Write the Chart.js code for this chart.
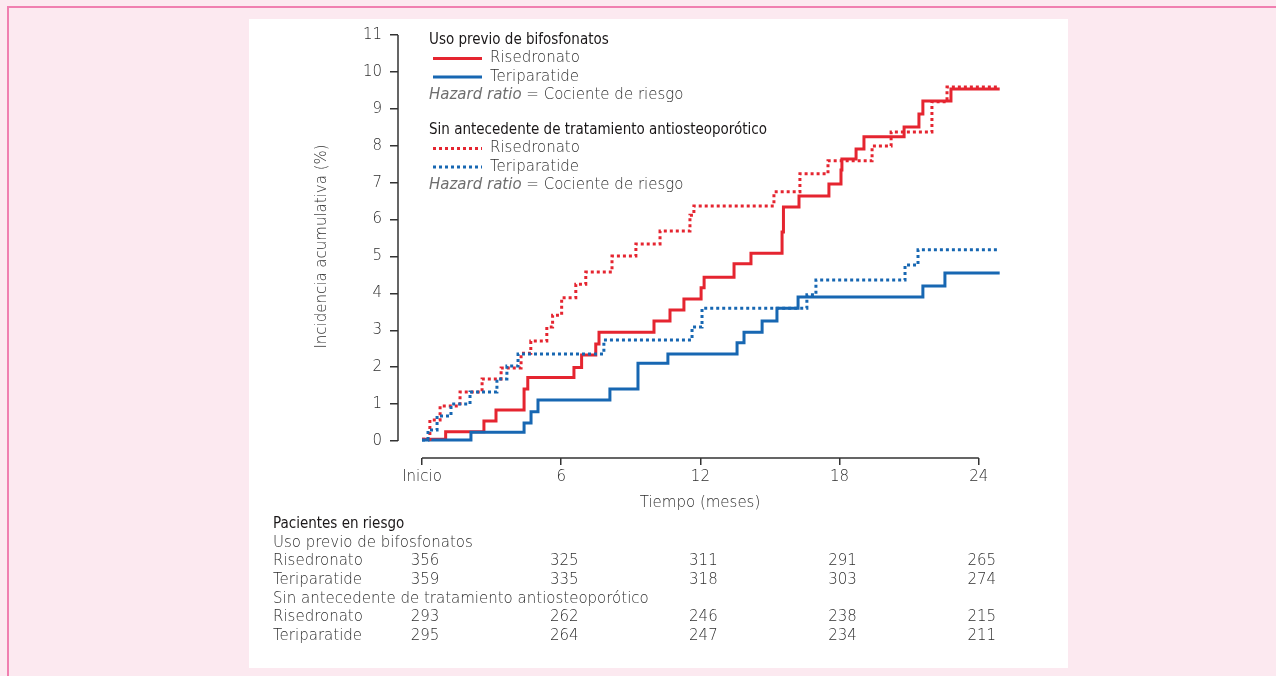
<!DOCTYPE html>
<html>
<head>
<meta charset="utf-8">
<script src="https://cdn.jsdelivr.net/npm/chart.js@4"></script>
<style>
  html, body { margin: 0; padding: 0; width: 1276px; height: 676px; overflow: hidden; background: #fce9f0; }
  #frame { position: absolute; left: 7px; top: 6px; right: 0; bottom: 0; border-left: 2px solid #f07fb0; border-top: 2px solid #f07fb0; }
  #panel { position: absolute; left: 249px; top: 19px; width: 819px; height: 649px; background: #ffffff; }
  canvas { position: absolute; left: 0; top: 0; }
</style>
</head>
<body>
<div id="frame"></div>
<div id="panel"></div>
<canvas id="c" width="1276" height="676"></canvas>
<script>
// Cumulative incidence (%) step curves: event month -> new level
const prevRisTimes  = [0, 1.02, 2.67, 3.19, 4.40, 4.56, 6.55, 6.88, 7.49, 7.63, 10.0, 10.69, 11.29, 12.03, 12.16, 13.45, 14.18, 15.52, 15.58, 16.25, 17.54, 18.06, 18.10, 18.71, 19.05, 20.78, 21.42, 21.59, 22.80, 24.9];
const prevRisLevels = [0.05, 0.25, 0.54, 0.84, 1.41, 1.72, 1.99, 2.33, 2.63, 2.95, 3.25, 3.55, 3.85, 4.15, 4.44, 4.80, 5.09, 5.66, 6.34, 6.64, 6.96, 7.34, 7.64, 7.91, 8.24, 8.51, 8.86, 9.21, 9.54, 9.54];

const prevTerTimes  = [0, 2.11, 4.40, 4.70, 5.0, 8.10, 9.31, 10.60, 13.58, 13.88, 14.66, 15.30, 16.21, 21.59, 22.54, 24.9];
const prevTerLevels = [0.03, 0.24, 0.49, 0.79, 1.11, 1.41, 2.11, 2.36, 2.66, 2.95, 3.25, 3.60, 3.90, 4.20, 4.55, 4.55];

const naiveRisTimes  = [0, 0.34, 0.78, 1.64, 2.59, 3.41, 4.27, 4.69, 5.38, 5.63, 6.02, 6.63, 7.06, 8.19, 9.22, 10.26, 11.55, 11.72, 15.17, 16.29, 17.5, 19.4, 20.22, 21.98, 22.63, 24.9];
const naiveRisLevels = [0.05, 0.57, 0.95, 1.33, 1.68, 1.98, 2.38, 2.71, 3.09, 3.41, 3.88, 4.25, 4.58, 5.01, 5.34, 5.69, 6.12, 6.37, 6.75, 7.24, 7.59, 7.99, 8.37, 9.19, 9.59, 9.59];

const naiveTerTimes  = [0, 0.26, 0.65, 1.25, 2.07, 3.23, 3.66, 4.14, 7.84, 11.64, 12.07, 16.59, 16.98, 20.82, 21.38, 24.9];
const naiveTerLevels = [0.03, 0.30, 0.68, 1.0, 1.33, 1.68, 2.03, 2.36, 2.74, 3.09, 3.60, 3.96, 4.36, 4.77, 5.18, 5.18];

// Axis ticks
const xTickValues = [0, 6, 12, 18, 24];
const xTickLabels = ['Inicio', '6', '12', '18', '24'];
const yTickValues = [0, 1, 2, 3, 4, 5, 6, 7, 8, 9, 10, 11];

// Patients at risk
const riskTitle = 'Pacientes en riesgo';
const groupNames = ['Uso previo de bifosfonatos', 'Sin antecedente de tratamiento antiosteoporótico'];
const drugNames = ['Risedronato', 'Teriparatide'];
const riskPrevRis  = [356, 325, 311, 291, 265];
const riskPrevTer  = [359, 335, 318, 303, 274];
const riskNaiveRis = [293, 262, 246, 238, 215];
const riskNaiveTer = [295, 264, 247, 234, 211];

const RED = '#e52530';
const BLUE = '#1767b2';
const GRAY = '#2e2e2e';
const DARK = '#1a1718';
const AXIS = '#333333';
const FAMILY = "'DejaVu Sans', sans-serif";
const COND = "'DejaVu Sans Condensed', 'DejaVu Sans', sans-serif";
const LIGHT = '200 15px ' + FAMILY;

function toPoints(times, levels) {
  return times.map((t, i) => ({ x: t, y: levels[i] }));
}

function stepSet(label, times, levels, color, dotted) {
  return {
    label,
    data: toPoints(times, levels),
    borderColor: color,
    backgroundColor: color,
    borderWidth: 3,
    borderDash: dotted ? [3, 3] : [],
    borderCapStyle: 'butt',
    borderJoinStyle: 'miter',
    stepped: true,
    pointRadius: 0,
    fill: false
  };
}

const datasets = [
  stepSet('Teriparatide', naiveTerTimes, naiveTerLevels, BLUE, true),
  stepSet('Risedronato', naiveRisTimes, naiveRisLevels, RED, true),
  stepSet('Teriparatide', prevTerTimes, prevTerLevels, BLUE, false),
  stepSet('Risedronato', prevRisTimes, prevRisLevels, RED, false)
];

function setCondensed(ctx) {
  if ('fontStretch' in ctx) ctx.fontStretch = 'condensed';
}
function clearCondensed(ctx) {
  if ('fontStretch' in ctx) ctx.fontStretch = 'normal';
}

// Axis lines spanning only the labelled range
const axisLines = {
  id: 'axisLines',
  afterDraw(chart) {
    const { ctx, chartArea: a, scales: { x, y } } = chart;
    ctx.save();
    ctx.strokeStyle = AXIS;
    ctx.lineWidth = 1.5;
    ctx.beginPath();
    ctx.moveTo(a.left, y.getPixelForValue(yTickValues[yTickValues.length - 1]));
    ctx.lineTo(a.left, y.getPixelForValue(yTickValues[0]));
    ctx.moveTo(x.getPixelForValue(xTickValues[0]), a.bottom);
    ctx.lineTo(x.getPixelForValue(xTickValues[xTickValues.length - 1]), a.bottom);
    ctx.stroke();
    ctx.restore();
  }
};

// Grouped legend with headings
const groupLegend = {
  id: 'groupLegend',
  afterDraw(chart) {
    const ctx = chart.ctx;
    const ds = chart.data.datasets;
    const left = 429;
    const groups = [
      { title: groupNames[0], top: 40, items: [ds[3], ds[2]] },
      { title: groupNames[1], top: 130, items: [ds[1], ds[0]] }
    ];
    ctx.save();
    ctx.textBaseline = 'middle';
    ctx.textAlign = 'left';
    groups.forEach(g => {
      ctx.font = '15px ' + COND;
      setCondensed(ctx);
      ctx.fillStyle = DARK;
      ctx.fillText(g.title, left, g.top);
      clearCondensed(ctx);
      g.items.forEach((d, i) => {
        const yy = g.top + 18.5 * (i + 1);
        ctx.strokeStyle = d.borderColor;
        ctx.lineWidth = 3;
        ctx.setLineDash(d.borderDash);
        ctx.beginPath();
        ctx.moveTo(433, yy);
        ctx.lineTo(482, yy);
        ctx.stroke();
        ctx.setLineDash([]);
        ctx.font = LIGHT;
        ctx.fillStyle = GRAY;
        ctx.fillText(d.label, 490, yy);
      });
      const hy = g.top + 18.5 * 3;
      ctx.font = 'italic 200 15px ' + FAMILY;
      ctx.fillStyle = '#6e6e6e';
      ctx.fillText('Hazard ratio', left, hy);
      const w = ctx.measureText('Hazard ratio').width;
      ctx.font = LIGHT;
      ctx.fillStyle = GRAY;
      ctx.fillText(' = Cociente de riesgo', left + w, hy);
    });
    ctx.restore();
  }
};

// Patients-at-risk table under the x axis
const riskTable = {
  id: 'riskTable',
  afterDraw(chart) {
    const ctx = chart.ctx;
    const x = chart.scales.x;
    const left = 273;
    const top = 524;
    const step = 18.7;
    const rows = [
      { text: riskTitle, head: true },
      { text: groupNames[0] },
      { text: drugNames[0], values: riskPrevRis },
      { text: drugNames[1], values: riskPrevTer },
      { text: groupNames[1] },
      { text: drugNames[0], values: riskNaiveRis },
      { text: drugNames[1], values: riskNaiveTer }
    ];
    ctx.save();
    ctx.textBaseline = 'middle';
    rows.forEach((r, i) => {
      const yy = top + step * i;
      ctx.textAlign = 'left';
      if (r.head) {
        ctx.font = '15px ' + COND;
        setCondensed(ctx);
        ctx.fillStyle = DARK;
      } else {
        ctx.font = LIGHT;
        clearCondensed(ctx);
        ctx.fillStyle = GRAY;
      }
      ctx.fillText(r.text, left, yy);
      clearCondensed(ctx);
      if (r.values) {
        ctx.textAlign = 'center';
        r.values.forEach((v, j) => {
          ctx.fillText(String(v), x.getPixelForValue(xTickValues[j]) + 3, yy);
        });
      }
    });
    ctx.restore();
  }
};

Chart.defaults.font.family = FAMILY;
Chart.defaults.font.size = 15;
Chart.defaults.font.weight = 200;
Chart.defaults.color = GRAY;

new Chart(document.getElementById('c'), {
  type: 'line',
  data: { datasets },
  options: {
    responsive: false,
    animation: false,
    events: [],
    layout: { padding: { left: 300, top: 35, right: 274, bottom: 156 } },
    plugins: { legend: { display: false }, tooltip: { enabled: false } },
    scales: {
      x: {
        type: 'linear',
        min: -1.034,
        max: 25,
        afterFit(s) { s.height = 62; },
        afterBuildTicks(s) { s.ticks = xTickValues.map(v => ({ value: v })); },
        ticks: {
          autoSkip: false,
          maxRotation: 0,
          padding: 3,
          color: GRAY,
          callback: (v) => xTickLabels[xTickValues.indexOf(v)]
        },
        grid: { drawOnChartArea: false, drawTicks: true, tickLength: 7, color: AXIS, lineWidth: 1.5 },
        border: { display: false },
        title: { display: true, text: 'Tiempo (meses)', color: GRAY, padding: { top: 0, bottom: 8 } }
      },
      y: {
        type: 'linear',
        min: -0.46,
        max: 11,
        afterFit(s) { s.width = 98; },
        afterBuildTicks(s) { s.ticks = yTickValues.map(v => ({ value: v })); },
        ticks: { padding: 8, color: GRAY },
        grid: { drawOnChartArea: false, drawTicks: true, tickLength: 8, color: AXIS, lineWidth: 1.5 },
        border: { display: false },
        title: { display: true, text: 'Incidencia acumulativa (%)', color: GRAY, padding: { top: 13, bottom: 0 } }
      }
    }
  },
  plugins: [axisLines, groupLegend, riskTable]
});
</script>
</body>
</html>
